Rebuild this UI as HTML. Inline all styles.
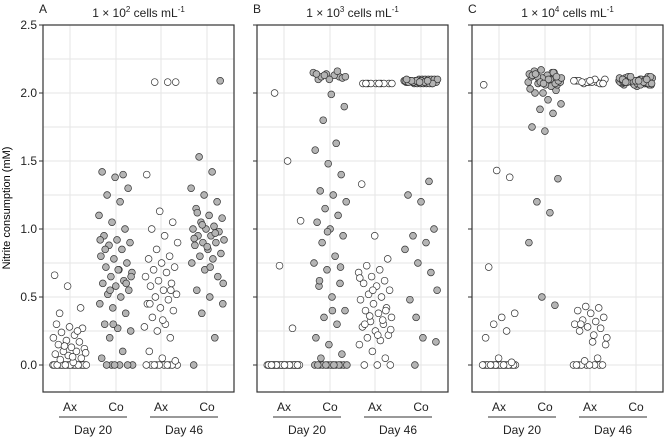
<!DOCTYPE html>
<html><head><meta charset="utf-8"><style>
html,body{margin:0;padding:0;background:#fff}
svg{display:block;font-family:"Liberation Sans",Arial,sans-serif}
</style></head><body>
<svg id="chart" width="666" height="438" viewBox="0 0 666 438">
<text x="10" y="208" transform="rotate(-90 10 208)" text-anchor="middle" font-size="11">Nitrite consumption (mM)</text>
</svg>
<script>
const yTicks=[0,0.5,1.0,1.5,2.0,2.5];
const yTickLabels=["0.0","0.5","1.0","1.5","2.0","2.5"];
const categories=["Ax","Co","Ax","Co"];
const days=["Day 20","Day 46"];
const panelLetters=["A","B","C"];
const panelExp=["2","3","4"];
function rep(v,n){const a=[];for(let i=0;i<n;i++)a.push(v);return a;}
const ax20A=[...rep(0,22),0.02,0.04,0.05,0.07,0.08,0.1,0.1,0.12,0.13,0.15,0.17,0.18,0.2,0.22,0.24,0.27,0.28,0.3,0.25,0.14,0.09,0.06,0.38,0.42,0.58,0.66];
const co20A=[...rep(0,6),0.05,0.1,0.2,0.25,0.27,0.3,0.38,0.42,0.45,0.5,0.52,0.55,0.58,0.6,0.62,0.65,0.68,0.7,0.72,0.75,0.78,0.8,0.85,0.88,0.9,0.92,0.95,1.0,1.05,1.1,1.2,1.25,1.3,1.38,1.42,1.4,0.55,0.65,0.7,0.85,0.6,0.3,0.92];
const ax46A=[...rep(0,10),0.03,0.05,0.1,0.2,0.25,0.28,0.3,0.35,0.4,0.42,0.45,0.48,0.5,0.52,0.55,0.58,0.6,0.62,0.65,0.68,0.7,0.72,0.75,0.78,0.8,0.85,0.9,0.95,1.0,1.05,1.13,1.4,2.08,2.08,2.08,0.33,0.45,0.55];
const co46A=[0,0.2,0.38,0.45,0.5,0.55,0.65,0.7,0.75,0.78,0.8,0.82,0.85,0.88,0.9,0.9,0.92,0.95,0.95,0.98,1.0,1.0,1.02,1.05,1.08,1.1,1.15,1.2,1.25,1.3,1.42,1.53,2.09,0.87,0.93,0.97,1.03,0.6,0.72,1.12];
const ax20B=[...rep(0,30),0.27,0.73,1.06,1.5,2.0];
const co20B=[...rep(0,14),0.05,0.08,0.15,0.2,0.3,0.35,0.4,0.5,0.58,0.6,0.7,0.75,0.8,0.9,0.95,1.0,1.05,1.1,1.15,1.2,1.25,1.28,1.4,1.48,1.58,1.63,1.8,1.9,1.99,2.1,2.12,2.14,2.15,2.13,2.12,2.11,2.1,2.14,2.16,2.13,2.12,0.4,0.62,0.72,0.98];
const ax46B=[0,0,0,0.05,0.1,0.15,0.18,0.2,0.22,0.25,0.28,0.3,0.32,0.35,0.38,0.4,0.42,0.45,0.48,0.5,0.52,0.55,0.58,0.6,0.62,0.65,0.68,0.7,0.73,0.78,0.95,1.33,0.33,0.36,0.26,0.22,0.3,0.4,0.55,0.64,...rep(2.07,10)];
const co46B=[0,0.17,0.2,0.48,0.68,0.75,0.85,0.9,0.95,1.0,1.2,1.25,1.35,0.35,0.55,2.08,2.09,2.07,2.1,2.08,2.09,2.07,2.08,2.1,2.09,2.08,2.07,2.09,2.1,2.08,2.09,2.07,2.08,2.1,2.09,2.08,2.07,2.09,2.1,2.08,2.09,2.07,2.08,2.1,2.09,2.08,2.07,2.09,2.1,2.08,2.09,2.07,2.08,2.1,2.09];
const ax20C=[...rep(0,25),0.02,0.05,0.2,0.25,0.3,0.38,0.35,0.72,1.38,1.43,2.06];
const co20C=[0.44,0.5,0.9,1.12,1.2,1.37,1.72,1.75,1.85,1.88,1.92,1.95,2.0,2.02,2.0,2.03,2.05,2.07,2.1,2.12,2.14,2.15,2.17,2.08,2.11,2.13,2.06,2.09,2.12,2.15,2.1,2.08,2.13,2.16,2.07,2.11,2.14,2.1,2.12,2.09,2.06,2.13,2.15,2.08,2.11,2.1,2.14,2.12,2.07];
const ax46C=[...rep(0,9),0.05,0.03,0.15,0.17,0.25,0.27,0.28,0.3,0.32,0.33,0.35,0.38,0.4,0.42,0.43,0.2,0.22,0.3,2.07,2.08,2.09,2.08,2.07,2.1,2.08,2.09,2.07,2.08,2.09,2.1,2.08,2.07,2.09];
const co46C=[2.05,2.06,2.07,2.08,2.09,2.1,2.11,2.12,2.08,2.07,2.09,2.1,2.06,2.08,2.11,2.09,2.07,2.08,2.1,2.12,2.06,2.09,2.08,2.07,2.1,2.11,2.08,2.09,2.07,2.06,2.1,2.08,2.09,2.12,2.07,2.08,2.1,2.09,2.11,2.06,2.08,2.07,2.09,2.1,2.08,2.12,2.07,2.09,2.08,2.1];
const panelSeries=[[ax20A,co20A,ax46A,co46A],[ax20B,co20B,ax46B,co46B],[ax20C,co20C,ax46C,co46C]];

const NS="http://www.w3.org/2000/svg";
const svgEl=document.getElementById('chart');
const panelLeft=[43,257,472], panelW=191, plotTop=25, plotBottom=392;
const catOff=[27,73,118,164];
function yScale(v){return 365-v*136;}
function mk(tag,attrs,parent){const e=document.createElementNS(NS,tag);for(const k in attrs)e.setAttribute(k,attrs[k]);(parent||svgEl).appendChild(e);return e;}
panelSeries.forEach((series,p)=>{
  const L=panelLeft[p];
  const g=mk('g',{});
  
  
  for(let k=0;k<=10;k++){
    const v=k*0.25;
    const gl=mk('line',{x1:L,x2:L+panelW,y1:yScale(v),y2:yScale(v),stroke:'#e6e6e6','stroke-width':1},g);
    
    
  }
  catOff.forEach(o=>{
    const gl=mk('line',{x1:L+o,x2:L+o,y1:plotTop,y2:plotBottom,stroke:'#e6e6e6','stroke-width':1},g);
    
    
  });
  series.forEach((vals,c)=>{
    const cx0=L+catOff[c];
    const open=(c%2===0);
    vals.forEach((v,i)=>{
      const j=((i*0.6180339+c*0.37+p*0.21)%1-0.5)*2*17;
      const dot=mk('circle',{cx:(cx0+j).toFixed(1),cy:yScale(v).toFixed(1),r:3.4,fill:open?'#fff':'#b4b4b4',stroke:'#333','stroke-width':0.7},g);
      
      
    });
  });
  const fr=mk('rect',{x:L,y:plotTop,width:panelW,height:plotBottom-plotTop,fill:'none',stroke:'#333','stroke-width':1.2},g);
  
  
  yTicks.forEach((t,k)=>{
    const tk=mk('line',{x1:L-4,x2:L,y1:yScale(t),y2:yScale(t),stroke:'#333','stroke-width':1},g);
    
    
    if(p===0){
      const tl=mk('text',{x:L-6,y:yScale(t)+4,'text-anchor':'end','font-size':12,fill:'#222'},g);
      tl.textContent=yTickLabels[k];
      
      
    }
  });
  categories.forEach((cName,c)=>{
    const tl=mk('text',{x:L+catOff[c],y:411,'text-anchor':'middle','font-size':12,fill:'#222'},g);
    tl.textContent=cName;
    
    
  });
  days.forEach((d,k)=>{
    const x1=L+catOff[k*2]-11, x2=L+catOff[k*2+1]+11;
    const ln=mk('line',{x1:x1,x2:x2,y1:417,y2:417,stroke:'#333','stroke-width':1},g);
    
    
    const dl=mk('text',{x:(x1+x2)/2,y:434,'text-anchor':'middle','font-size':12,fill:'#222'},g);
    dl.textContent=d;
    
    
  });
  const pl=mk('text',{x:L-4,y:13,'font-size':12,fill:'#222'},g);
  pl.textContent=panelLetters[p];
  
  
  const tt=mk('text',{x:L+panelW/2,y:17,'text-anchor':'middle','font-size':12,fill:'#222'},g);
  
  
  const parts=[['1 × 10',0,12],[panelExp[p],-5,8],[' cells mL',5,12],['-1',-5,8]];
  parts.forEach(pt=>{
    const ts=mk('tspan',{dy:pt[1],'font-size':pt[2]},tt);
    ts.textContent=pt[0];
  });
});
</script>
</body></html>
